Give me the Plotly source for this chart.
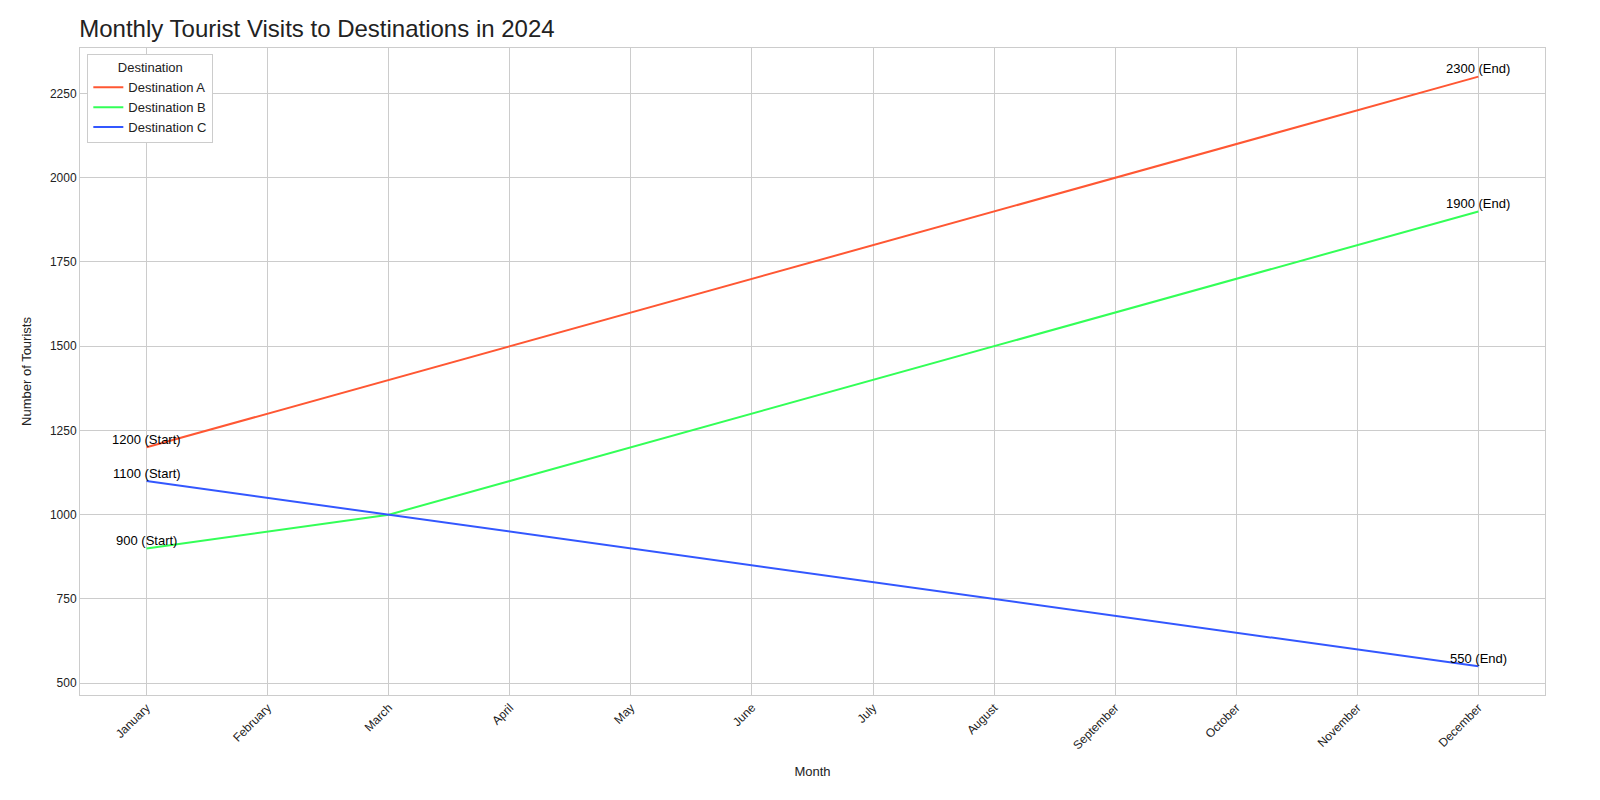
import plotly.graph_objects as go

months = ["January", "February", "March", "April", "May", "June", "July",
          "August", "September", "October", "November", "December"]
dest_a = [1200, 1300, 1400, 1500, 1600, 1700, 1800, 1900, 2000, 2100, 2200, 2300]
dest_b = [900, 950, 1000, 1100, 1200, 1300, 1400, 1500, 1600, 1700, 1800, 1900]
dest_c = [1100, 1050, 1000, 950, 900, 850, 800, 750, 700, 650, 600, 550]

series = [("Destination A", dest_a, "#ff5733"),
          ("Destination B", dest_b, "#33ff57"),
          ("Destination C", dest_c, "#3357ff")]

fig = go.Figure()
for name, vals, col in series:
    fig.add_trace(go.Scatter(x=months, y=vals, name=name, mode="lines",
                             line=dict(color=col, width=2)))
    fig.add_annotation(x=months[0], y=vals[0], text=f"{vals[0]} (Start)",
                       showarrow=False, yshift=8, font=dict(size=13, color="black"))
    fig.add_annotation(x=months[-1], y=vals[-1], text=f"{vals[-1]} (End)",
                       showarrow=False, yshift=8, font=dict(size=13, color="black"))

axis_common = dict(showgrid=True, gridcolor="#cccccc", gridwidth=1, showline=True,
                   linecolor="#cccccc", mirror=True, zeroline=False, ticks="",
                   tickfont=dict(size=12, color="#222"))
fig.update_layout(
    autosize=True,
    paper_bgcolor="white", plot_bgcolor="white",
    font=dict(family="Liberation Sans, Arial", color="#222"),
    title=dict(text="Monthly Tourist Visits to Destinations in 2024",
               x=0.045, xanchor="left", y=0.985, yanchor="top", font=dict(size=24)),
    margin=dict(l=72, r=47, t=40, b=113),
    xaxis=dict(title=dict(text="Month", font=dict(size=13)), tickangle=-45,
               range=[-0.55, 11.55], **axis_common),
    yaxis=dict(title=dict(text="Number of Tourists", font=dict(size=13)),
               range=[465, 2385], tickvals=[500, 750, 1000, 1250, 1500, 1750, 2000, 2250],
               **axis_common),
    legend=dict(title=dict(text="Destination", side="top center", font=dict(size=13)),
                x=0.005, y=0.99, xanchor="left", yanchor="top",
                bordercolor="#cccccc", borderwidth=1, bgcolor="white",
                font=dict(size=13)),
    showlegend=True,
)

fig.write_html("out.html", default_height="100vh", default_width="100%")
